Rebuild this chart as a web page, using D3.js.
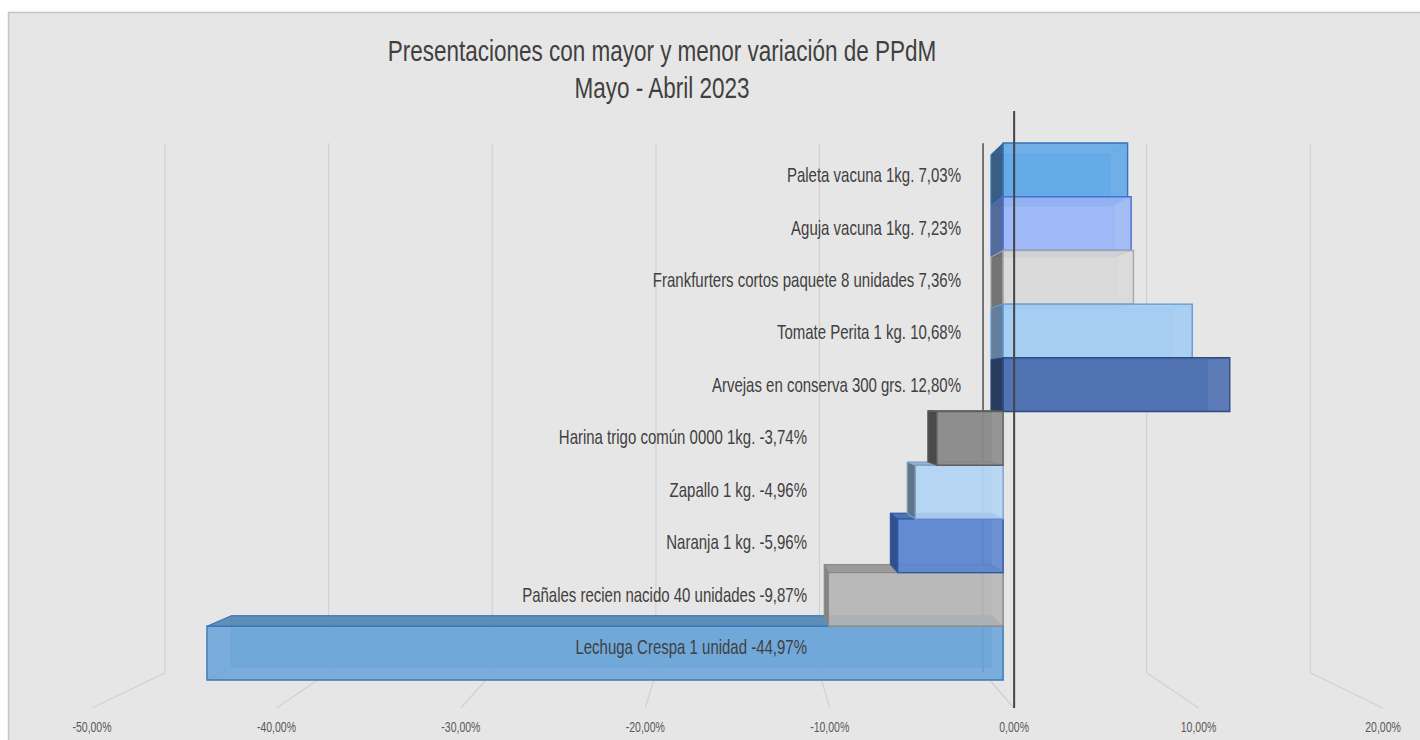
<!DOCTYPE html>
<html>
<head>
<meta charset="utf-8">
<script src="https://cdn.jsdelivr.net/npm/d3@7/dist/d3.min.js"></script>
<style>
  html, body { margin: 0; padding: 0; background: #ffffff; }
  svg { display: block; }
  text { font-family: "Liberation Sans", Arial, sans-serif; fill: #404040; }
</style>
</head>
<body>
<svg id="chart" width="1420" height="740"></svg>
<script>
// ---------------- DATA ----------------
const categories = [
  "Paleta vacuna 1kg.",
  "Aguja vacuna 1kg.",
  "Frankfurters cortos paquete 8 unidades",
  "Tomate Perita 1 kg.",
  "Arvejas en conserva 300 grs.",
  "Harina trigo común 0000 1kg.",
  "Zapallo 1 kg.",
  "Naranja 1 kg.",
  "Pañales recien nacido 40 unidades",
  "Lechuga Crespa 1 unidad"
];
const values = [7.03, 7.23, 7.36, 10.68, 12.80, -3.74, -4.96, -5.96, -9.87, -44.97];
const tickValues = [-50, -40, -30, -20, -10, 0, 10, 20];
const tickLabels = ["-50,00%", "-40,00%", "-30,00%", "-20,00%", "-10,00%", "0,00%", "10,00%", "20,00%"];
const titleLines = ["Presentaciones con mayor y menor variación de PPdM", "Mayo - Abril 2023"];

// ---------------- STYLE ----------------
const barColors = ["#5fa7e8", "#9bb7f7", "#d9d9d9", "#a3ccf3", "#4a6db0",
                   "#8a8a8a", "#b3d4f4", "#5b86d2", "#b6b6b6", "#6ba5da"];
const edgeColors = ["#3474b8", "#4a6fd0", "#a6a6a6", "#5b9bd5", "#2f4b80",
                    "#5f5f5f", "#7fa3c8", "#2e56a6", "#8a8a8a", "#3b78b8"];
const sideColors = ["#33587e", "#4d6694", "#6e6e6e", "#5e7a96", "#22375a",
                    "#454545", "#5e6f80", "#2e4a86", "#7f7f7f", "#3f6fa5"];
const SX = 0.75;              // horizontal compression of text
const VP = {x: 739, y: 396};  // vanishing point
const S_BAR_FRONT = 0.96, S_BAR_BACK = 0.916, S_WALL = 0.887;
const PLANE_TOP = 111, PLANE_FLOOR = 708;

const svg = d3.select("#chart");

// background / frame
svg.append("rect").attr("x", 8.5).attr("y", 12.5).attr("width", 1430).attr("height", 740)
  .attr("fill", "#e7e6e6").attr("stroke", "#c4c4c4").attr("stroke-width", 1.5);

// scales
const xFront = d3.scaleLinear().domain([-50, 20]).range([92, 1383]);
const yBand = d3.scaleBand().domain(categories).range([132.5, 691.8]).padding(0);

function proj(x, y, s) { return [VP.x + (x - VP.x) * s, VP.y + (y - VP.y) * s]; }
const line = d3.line();

// ---------------- WALL GRID ----------------
const grid = svg.append("g");
tickValues.forEach(t => {
  const X = xFront(t);
  const top = proj(X, PLANE_TOP, S_WALL);
  const bot = proj(X, PLANE_FLOOR, S_WALL);
  const isZero = t === 0;
  grid.append("path").attr("d", line([top, bot]))
    .attr("stroke", isZero ? "#5a5a5a" : "#d2d0d0").attr("stroke-width", isZero ? 1.6 : 1.2).attr("fill", "none");
  grid.append("path").attr("d", line([bot, [X, PLANE_FLOOR]]))
    .attr("stroke", "#d2d0d0").attr("stroke-width", 1.2).attr("fill", "none");
});

// ---------------- BARS ----------------
const barsG = svg.append("g");
const order = [];
categories.forEach((c, i) => {
  const yc = yBand(c) + yBand.bandwidth() / 2;
  if (yc < VP.y) order.push(i);
});
for (let i = categories.length - 1; i >= 0; i--) {
  const yc = yBand(categories[i]) + yBand.bandwidth() / 2;
  if (yc >= VP.y) order.push(i);
}

order.forEach(i => {
  const c = categories[i], v = values[i];
  const xa = xFront(0), xb = xFront(v);
  const xl = Math.min(xa, xb), xr = Math.max(xa, xb);
  const y0 = yBand(c), y1 = y0 + yBand.bandwidth();
  const F = (x, y) => proj(x, y, S_BAR_FRONT);
  const B = (x, y) => proj(x, y, S_BAR_BACK);
  const g = barsG.append("g");
  const col = barColors[i], edge = edgeColors[i], side = sideColors[i];

  // back face
  g.append("path").attr("d", line([B(xl, y0), B(xr, y0), B(xr, y1), B(xl, y1)]) + "Z")
    .attr("fill", col).attr("fill-opacity", 0.6).attr("stroke", edge).attr("stroke-opacity", 0.55).attr("stroke-width", 1);

  // side faces
  const faces = [];
  if (xl > VP.x) faces.push({pts: [F(xl, y0), B(xl, y0), B(xl, y1), F(xl, y1)], fill: side});
  if (xr < VP.x) faces.push({pts: [F(xr, y0), B(xr, y0), B(xr, y1), F(xr, y1)], fill: side});
  if (y0 > VP.y) faces.push({pts: [F(xl, y0), F(xr, y0), B(xr, y0), B(xl, y0)], fill: d3.color(col).darker(0.5).formatHex()});
  if (y1 < VP.y) faces.push({pts: [F(xl, y1), F(xr, y1), B(xr, y1), B(xl, y1)], fill: d3.color(col).darker(0.5).formatHex()});
  faces.forEach(f => {
    g.append("path").attr("d", line(f.pts) + "Z")
      .attr("fill", f.fill).attr("fill-opacity", 0.95).attr("stroke", edge).attr("stroke-width", 1);
  });

  // connecting edges (all four), seen through
  [[xl, y0], [xr, y0], [xr, y1], [xl, y1]].forEach(p => {
    g.append("path").attr("d", line([F(p[0], p[1]), B(p[0], p[1])]))
      .attr("stroke", edge).attr("stroke-opacity", 0.6).attr("stroke-width", 1).attr("fill", "none");
  });

  // front face
  g.append("path").attr("d", line([F(xl, y0), F(xr, y0), F(xr, y1), F(xl, y1)]) + "Z")
    .attr("fill", col).attr("fill-opacity", 0.88).attr("stroke", edge).attr("stroke-width", 1.4);
});

// ---------------- FRONT ZERO AXIS ----------------
svg.append("path").attr("d", line([[xFront(0), PLANE_TOP], [xFront(0), PLANE_FLOOR]]))
  .attr("stroke", "#444444").attr("stroke-width", 2).attr("fill", "none");

// ---------------- LABELS ----------------
const loc = d3.formatLocale({decimal: ",", thousands: ".", grouping: [3], currency: ["", ""], minus: "-"});
const fmt = loc.format(".2f");
const labelsG = svg.append("g");
categories.forEach((c, i) => {
  const v = values[i];
  const yc = yBand(c) + yBand.bandwidth() / 2;
  const mid = proj(0, yc, (S_BAR_FRONT + S_BAR_BACK) / 2)[1];
  const xEnd = v >= 0 ? 961 : 807;
  labelsG.append("text")
    .attr("transform", `translate(${xEnd},${mid + 7}) scale(${SX},1)`)
    .attr("text-anchor", "end")
    .style("font-size", "20px")
    .text(`${c} ${fmt(v)}%`);
});

// ---------------- AXIS TICK LABELS ----------------
const ticksG = svg.append("g");
tickValues.forEach((t, i) => {
  ticksG.append("text")
    .attr("transform", `translate(${xFront(t)},732) scale(${SX},1)`)
    .attr("text-anchor", "middle")
    .style("font-size", "14px")
    .style("fill", "#595959")
    .text(tickLabels[i]);
});

// ---------------- TITLE ----------------
titleLines.forEach((t, i) => {
  svg.append("text")
    .attr("transform", `translate(662,${61 + i * 37}) scale(${SX},1)`)
    .attr("text-anchor", "middle")
    .style("font-size", "30px")
    .text(t);
});
</script>
</body>
</html>
